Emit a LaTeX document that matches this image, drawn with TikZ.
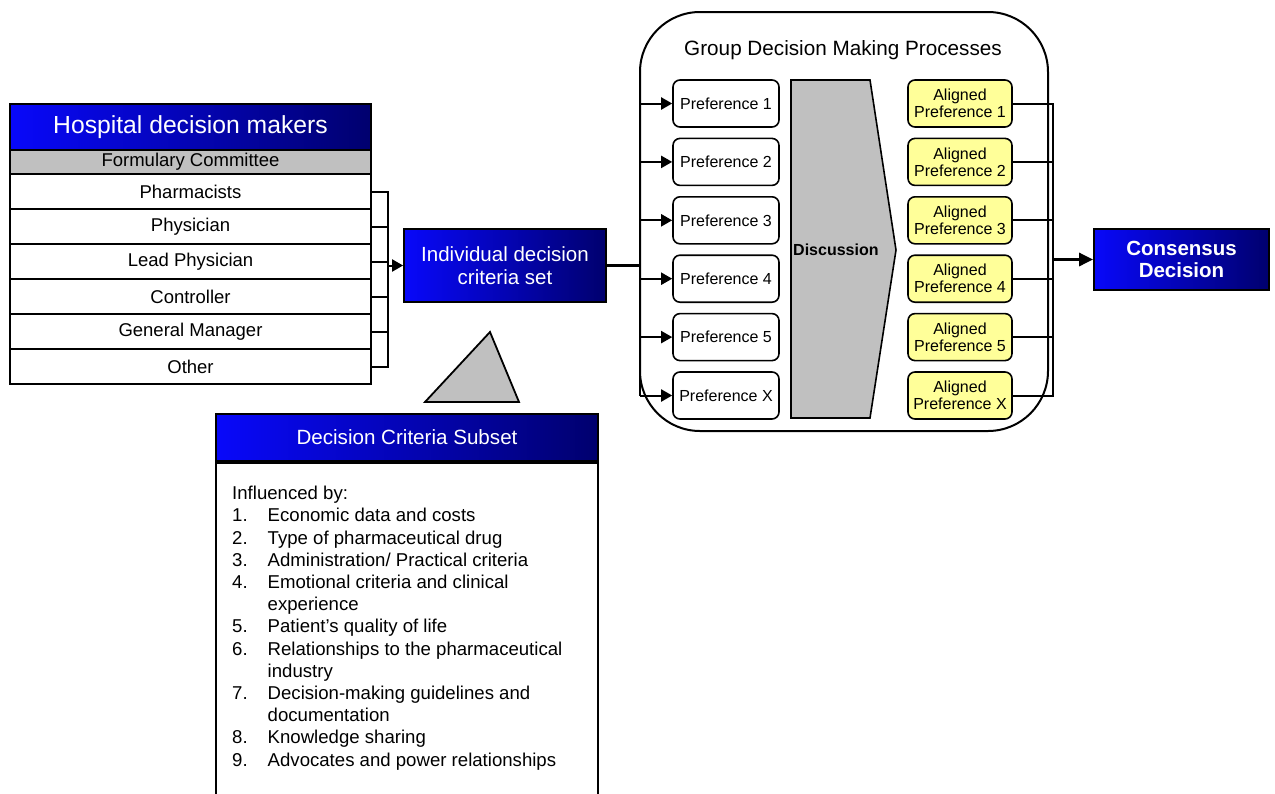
\documentclass[tikz,border=0pt]{standalone}
\usepackage{fontspec}
\setmainfont{Liberation Sans}
\usetikzlibrary{arrows.meta}
\definecolor{hdblue}{RGB}{8,8,250}
\definecolor{hdnavy}{RGB}{0,0,110}
\definecolor{alignyellow}{RGB}{255,255,153}
\definecolor{boxgray}{RGB}{192,192,192}
\newcommand{\fs}[1]{\fontsize{#1}{#1}\selectfont}
\tikzset{
  bluebox/.style={draw,line width=1.8pt,left color=hdblue,right color=hdnavy,text=white,align=center,inner sep=0pt},
  rowbox/.style={draw,line width=1.8pt,fill=white,minimum width=361pt,minimum height=35pt,inner sep=0pt,font=\fs{18.5}},
  prefbox/.style={draw,line width=1.6pt,rounded corners=7pt,minimum width=106pt,minimum height=47pt,inner sep=0pt,font=\fs{16},align=center},
  tip/.style={-{Triangle[length=11pt,width=12pt]}},
  bigtip/.style={-{Triangle[length=14pt,width=13pt]}},
  link/.style={line width=2pt}
}
\begin{document}
\begin{tikzpicture}[x=1pt,y=-1pt]
\useasboundingbox (0,0) rectangle (1275,793);
% hospital decision makers
\node[bluebox,minimum width=361pt,minimum height=46pt,font=\fs{24.7}] (hdm) at (190.5,127) {Hospital decision makers};
\node[draw,line width=1.8pt,fill=boxgray,minimum width=361pt,minimum height=24pt,inner sep=0pt,font=\fs{18.5}] (fc) at (190.5,162) {Formulary Committee};
\foreach \t [count=\i] in {Pharmacists,Physician,Lead Physician,Controller,General Manager,Other}
  \node[rowbox] (r\i) at (190.5,{156.5+35*\i}) {\t};
% individual criteria
\node[bluebox,minimum width=202pt,minimum height=73pt,font=\fs{20.5}] (ind) at (505,265.5) {Individual decision\\[2pt]criteria set};
\coordinate (bkt) at (388,191.5);
\draw[link] (r1.east) -- (bkt) -- (bkt |- r6.east) -- (r6.east);
\foreach \i in {2,...,5} \draw[link] (r\i.east) -- (r\i.east -| bkt);
\draw[link,tip] (bkt |- ind.west) -- (ind.west);
\draw[line width=1.8pt,fill=boxgray] (425,402) -- (519,402) -- (490,332) -- cycle;
% criteria subset
\node[bluebox,minimum width=382pt,minimum height=47pt,font=\fs{20.6}] (dcs) at (407,437.5) {Decision Criteria Subset};
\node[draw,line width=1.8pt,minimum width=382pt,minimum height=345pt,anchor=north] (dcsbody) at (dcs.south) {};
\node[anchor=north west,inner sep=0pt,font=\fontsize{18.6}{22.2}\selectfont] (infl) at (232,484) {%
\begin{tabular}{@{}l@{\hspace{20pt}}l@{}}
\multicolumn{2}{@{}l}{Influenced by:}\\
1. & Economic data and costs\\
2. & Type of pharmaceutical drug\\
3. & Administration/ Practical criteria\\
4. & Emotional criteria and clinical\\
   & experience\\
5. & Patient's quality of life\\
6. & Relationships to the pharmaceutical\\
   & industry\\
7. & Decision-making guidelines and\\
   & documentation\\
8. & Knowledge sharing\\
9. & Advocates and power relationships
\end{tabular}};
% group decision making
\node[draw,line width=2pt,rounded corners=60pt,minimum width=408pt,minimum height=419pt] (gdm) at (844,221.5) {};
\node[font=\fs{20.7}] (gdmt) at (843,50) {Group Decision Making Processes};
\foreach \t [count=\i] in {1,2,3,4,5,X}{
  \node[prefbox] (p\i) at (726,{103.5+58.4*(\i-1)}) {Preference \t};
  \node[prefbox,fill=alignyellow,minimum width=104pt] (a\i) at (960,{103.5+58.4*(\i-1)}) {Aligned\\[1pt]Preference \t};
}
\draw[line width=1.6pt,fill=boxgray] (791,80) -- (870,80) -- (896,250) -- (870,418) -- (791,418) -- cycle;
\node[anchor=west,inner sep=0pt,font=\bfseries\fs{16}] (disc) at (793,250) {Discussion};
\coordinate (gl) at (639.5,103.5);
\draw[line width=2.5pt] (ind.east) -- (ind.east -| gl);
\draw[link] (gl) -- (gl |- p6.west);
\foreach \i in {1,...,6} \draw[link,tip] (p\i.west -| gl) -- (p\i.west);
% consensus
\node[bluebox,minimum width=175pt,minimum height=61pt,font=\bfseries\fs{20.5}] (cons) at (1181.5,259.5) {Consensus\\[2pt]Decision};
\coordinate (rt) at (1053,103.5);
\draw[link] (a1.east) -- (rt) -- (rt |- a6.east) -- (a6.east);
\foreach \i in {2,...,5} \draw[link] (a\i.east) -- (a\i.east -| rt);
\draw[line width=3pt,bigtip] (rt |- cons.west) -- (cons.west);
\end{tikzpicture}
\end{document}
